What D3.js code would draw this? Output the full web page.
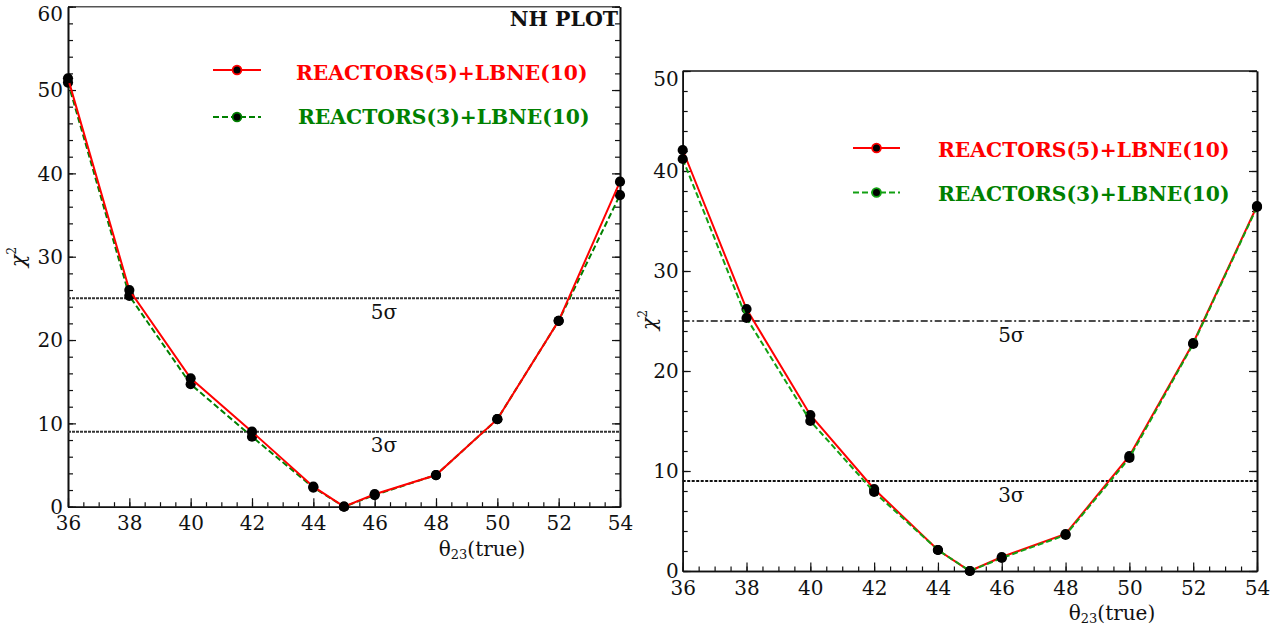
<!DOCTYPE html>
<html>
<head>
<meta charset="utf-8">
<script src="https://cdn.jsdelivr.net/npm/d3@7/dist/d3.min.js"></script>
<style>
  html, body { margin: 0; padding: 0; background: #fff; }
  svg { display: block; }
  text { font-family: "DejaVu Serif", serif; }
</style>
</head>
<body>
<svg id="chart" width="1281" height="629"></svg>
<script>
// ---------------- data ----------------
const thetaTrue = [36, 38, 40, 42, 44, 45, 46, 48, 50, 52, 54];

// Left panel (NH PLOT)
const leftReactors5 = [51.4, 26.0, 15.4, 9.0, 2.4, 0.0, 1.5, 3.8, 10.5, 22.3, 39.0];
const leftReactors3 = [50.9, 25.3, 14.7, 8.4, 2.3, 0.0, 1.4, 3.8, 10.5, 22.3, 37.4];

// Right panel
const rightReactors5 = [42.1, 26.2, 15.6, 8.2, 2.1, 0.0, 1.4, 3.7, 11.5, 22.8, 36.5];
const rightReactors3 = [41.2, 25.3, 15.0, 7.9, 2.1, 0.0, 1.3, 3.6, 11.3, 22.7, 36.4];

const xTickValues = [36, 38, 40, 42, 44, 46, 48, 50, 52, 54];
const leftYTickValues = [0, 10, 20, 30, 40, 50, 60];
const rightYTickValues = [0, 10, 20, 30, 40, 50];

const sigmaLevels = [9, 25];
const sigmaLabels = ["3σ", "5σ"];
const sigmaLabelX = 46.3;

const seriesNames = ["REACTORS(5)+LBNE(10)", "REACTORS(3)+LBNE(10)"];
const panelTitle = "NH PLOT";

// ---------------- drawing ----------------
const svg = d3.select("#chart");

function drawPanel(cfg) {
  const g = svg.append("g");
  const x = d3.scaleLinear().domain([36, 54]).range([cfg.left, cfg.right]);
  const y = d3.scaleLinear().domain([0, cfg.yMax]).range([cfg.bottom, cfg.top]);

  // frame: top border
  g.append("line").attr("x1", cfg.left).attr("x2", cfg.right)
    .attr("y1", cfg.top).attr("y2", cfg.top)
    .attr("stroke", cfg.topColor).attr("stroke-width", 1.5);

  const minorY = d3.range(0, cfg.yMax + 0.001, 2);
  const minorX = d3.range(36, 54.001, 0.5);

  // right border with inward ticks
  g.append("g").attr("transform", `translate(${cfg.right},0)`)
    .call(d3.axisRight(y).tickValues(minorY).tickSize(-5).tickSizeOuter(0).tickFormat(""));
  g.append("g").attr("transform", `translate(${cfg.right},0)`)
    .call(d3.axisRight(y).tickValues(cfg.yTicks).tickSize(-8).tickSizeOuter(0).tickFormat(""));

  // left axis
  g.append("g").attr("transform", `translate(${cfg.left},0)`)
    .call(d3.axisLeft(y).tickValues(minorY).tickSize(-5).tickSizeOuter(0).tickFormat(""));
  const yAx = g.append("g").attr("transform", `translate(${cfg.left},0)`)
    .call(d3.axisLeft(y).tickValues(cfg.yTicks).tickSize(-8).tickSizeOuter(0).tickPadding(cfg.yPad));
  yAx.selectAll(".tick text")
    .attr("dy", d => d === cfg.yMax ? "0.71em" : "0.34em");

  // bottom axis
  g.append("g").attr("transform", `translate(0,${cfg.bottom})`)
    .call(d3.axisBottom(x).tickValues(minorX).tickSize(-4.5).tickSizeOuter(0).tickFormat(""));
  g.append("g").attr("transform", `translate(0,${cfg.bottom})`)
    .call(d3.axisBottom(x).tickValues(xTickValues).tickSize(-8.5).tickSizeOuter(0).tickPadding(cfg.xPad));

  g.selectAll(".domain").attr("stroke", "#111").attr("stroke-width", 1.6);
  g.selectAll(".tick line").attr("stroke", "#111").attr("stroke-width", 1.2);
  g.selectAll(".tick text").attr("fill", "#111")
    .style("font-family", "DejaVu Serif").style("font-size", "20px");

  // sigma lines
  sigmaLevels.forEach((lv, i) => {
    const st = cfg.sigmaStyles[i];
    g.append("line").attr("x1", cfg.left).attr("x2", cfg.right)
      .attr("y1", y(lv)).attr("y2", y(lv))
      .attr("stroke", st.color).attr("stroke-width", st.width)
      .attr("stroke-dasharray", st.dash);
    g.append("text").attr("x", x(sigmaLabelX)).attr("y", y(lv) + 20.5)
      .attr("text-anchor", "middle").style("font-size", "20px").attr("fill", "#111")
      .text(sigmaLabels[i]);
  });

  // series
  const line = d3.line().x((d, i) => x(thetaTrue[i])).y(d => y(d));
  cfg.series.forEach(s => {
    g.append("path").datum(s.values).attr("d", line)
      .attr("fill", "none").attr("stroke", s.color).attr("stroke-width", 2)
      .attr("stroke-dasharray", s.dash || null);
    g.selectAll(null).data(s.values).enter().append("circle")
      .attr("cx", (d, i) => x(thetaTrue[i])).attr("cy", d => y(d))
      .attr("r", 5.1).attr("fill", "#000");
  });

  // legend
  cfg.legend.forEach(L => {
    const s = cfg.series.find(q => q.name === L.name);
    g.append("line").attr("x1", L.x1).attr("x2", L.x2).attr("y1", L.y).attr("y2", L.y)
      .attr("stroke", s.color).attr("stroke-width", 2)
      .attr("stroke-dasharray", s.dash || null);
    g.append("circle").attr("cx", (L.x1 + L.x2) / 2).attr("cy", L.y).attr("r", 4.4)
      .attr("fill", "#000").attr("stroke", s.color).attr("stroke-width", 1.8);
    g.append("text").attr("x", L.tx).attr("y", L.ty)
      .style("font-size", cfg.legendFont + "px").style("font-weight", "bold")
      .attr("fill", L.textColor).text(L.name);
  });

  // x axis title
  const xt = g.append("text").attr("x", cfg.xTitle[0]).attr("y", cfg.xTitle[1])
    .attr("text-anchor", "middle").style("font-size", "20px").attr("fill", "#111");
  xt.append("tspan").text("θ");
  xt.append("tspan").text("23").style("font-size", "13px").attr("dy", 3);
  xt.append("tspan").text("(true)").attr("dy", -3);

  // y axis title
  const yt = g.append("text")
    .attr("transform", `translate(${cfg.yTitle[0]},${cfg.yTitle[1]}) rotate(-90)`)
    .attr("text-anchor", "middle").style("font-size", "21px").attr("fill", "#111");
  yt.append("tspan").text("χ").style("font-style", "italic");
  yt.append("tspan").text("2").style("font-size", "12px").attr("dy", -9);

  if (cfg.title) {
    g.append("text").attr("x", cfg.title[0]).attr("y", cfg.title[1])
      .attr("text-anchor", "end").style("font-size", "20.5px").style("font-weight", "bold")
      .attr("fill", "#111").text(panelTitle);
  }
}

drawPanel({
  left: 68, right: 620, top: 6.7, bottom: 506.7, yMax: 60,
  yTicks: leftYTickValues, yPad: 5, xPad: 9.2, topColor: "#555",
  sigmaStyles: [
    { color: "#333", width: 2, dash: "3,1" },
    { color: "#333", width: 2, dash: "3,1" }
  ],
  series: [
    { name: seriesNames[1], values: leftReactors3, color: "#008000", dash: "6,3" },
    { name: seriesNames[0], values: leftReactors5, color: "#ff0000" }
  ],
  legend: [
    { name: seriesNames[0], x1: 213, x2: 261, y: 70, tx: 296, ty: 80, textColor: "#ff0000" },
    { name: seriesNames[1], x1: 213, x2: 261, y: 117, tx: 298, ty: 124, textColor: "#008000" }
  ],
  legendFont: 20.3,
  xTitle: [482, 556], yTitle: [25, 257], title: [618, 26]
});

drawPanel({
  left: 682.7, right: 1257, top: 71, bottom: 571, yMax: 50,
  yTicks: rightYTickValues, yPad: 4, xPad: 9.8, topColor: "#111",
  sigmaStyles: [
    { color: "#111", width: 1.8, dash: "3,1.5" },
    { color: "#111", width: 1.6, dash: "7,2.5,2,2.5" }
  ],
  series: [
    { name: seriesNames[0], values: rightReactors5, color: "#ff0000" },
    { name: seriesNames[1], values: rightReactors3, color: "#12a012", dash: "6,3" }
  ],
  legend: [
    { name: seriesNames[0], x1: 853, x2: 900, y: 148, tx: 938, ty: 157, textColor: "#ff0000" },
    { name: seriesNames[1], x1: 853, x2: 900, y: 192.5, tx: 938, ty: 201, textColor: "#008000" }
  ],
  legendFont: 20.3,
  xTitle: [1112, 620], yTitle: [656, 320], title: null
});
</script>
</body>
</html>
